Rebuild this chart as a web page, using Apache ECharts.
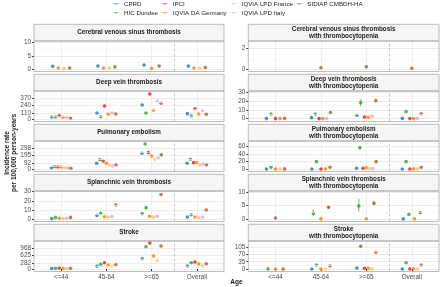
<!DOCTYPE html>
<html>
<head>
<meta charset="utf-8">
<script src="https://cdn.jsdelivr.net/npm/echarts@6/dist/echarts.min.js"></script>
<style>
  html, body { margin: 0; padding: 0; background: #fff; }
  #chart { width: 440px; height: 287px; }
</style>
</head>
<body>
<div id="chart"></div>
<script>
const sources = ['CPRD', 'HIC Dundee', 'IPCI', 'IQVIA DA Germany', 'IQVIA LPD France', 'IQVIA LPD Italy', 'SIDIAP CMBDH-HA'];
const sourceColors = ['#1F78B4', '#33A02C', '#E31A1C', '#FF7F00', '#FDBF6F', '#CAB2D6', '#B15928'];
const ageGroups = ['<=44', '45-64', '>=65', 'Overall'];

// rows follow `sources`, columns follow `ageGroups`; null = not reported
const cvstRates = [
  [1.1, 1.2, 1.6, 1.2],
  [null, null, null, null],
  [null, null, null, null],
  [0.5, 0.5, 0.4, 0.5],
  [0.25, 0.5, null, 0.4],
  [null, null, null, null],
  [0.5, 0.9, 1.2, 0.7]
];
const dvtRates = [
  [36, 107, 250, 95],
  [36, 41, 107, 54],
  [59, 232, 446, 184],
  [30, 84, 155, 89],
  [null, null, null, null],
  [30, 107, 321, 148],
  [18, 89, 280, 84]
];
const peRates = [
  [23, 85, 227, 85],
  [37, 136, 359, 142],
  [33, 118, 236, 94],
  [33, 85, 189, 94],
  [23, 57, 142, 61],
  [23, 47, 160, 75],
  [14, 61, 207, 61]
];
const svtRates = [
  [0.5, 4, 5.8, 2.2],
  [1.8, 6.2, 12.4, 4.7],
  [null, null, null, null],
  [0.8, 2.5, 3, 2.2],
  [0.5, 2.2, 2.2, 1.5],
  [0.8, 2.8, 3, 2.2],
  [1.8, 15.4, 27, 10]
];
const strokeRates = [
  [20, 124, 475, 138],
  [30, 216, 1028, 290],
  [50, 290, 1198, 322],
  [30, 184, 599, 230],
  [20, 138, 401, 152],
  [null, null, null, null],
  [30, 198, 1060, 244]
];
const cvstTcpRates = [
  [null, null, null, null],
  [null, null, null, null],
  [null, null, null, null],
  [null, null, null, null],
  [null, null, null, null],
  [null, null, null, null],
  [null, 0.15, 0.25, 0.1]
];
const dvtTcpRates = [
  [0.1, 1.2, 3.8, 0.3],
  [5.3, 5.3, 18, 8],
  [0.1, 0.1, 2, 0.1],
  [0.1, 0.1, 1.5, 0.1],
  [null, null, null, null],
  [null, 0.1, 2.7, 0.3],
  [0.4, 7, 20.5, 5.7]
];
const peTcpRates = [
  [0.1, 0.1, 2, 0.1],
  [4.6, 19.7, 57, 19.7],
  [null, 0.1, 2, 0.1],
  [0.1, 0.5, 3.5, 0.5],
  [0.1, null, 1, 0.2],
  [null, null, 1, null],
  [0.3, 4.6, 19.7, 4.6]
];
const svtTcpRates = [
  [null, null, null, 0.05],
  [null, 2.1, 4.8, 1.7],
  [null, null, null, null],
  [null, 0.05, 0.1, 0.05],
  [null, null, null, null],
  [null, null, null, null],
  [0.4, 4.3, 5.8, 2.3]
];
const strokeTcpRates = [
  [null, 0.3, 5, 0.3],
  [0.5, 19, 110, 30],
  [null, null, 4, 0.3],
  [0.3, 0.3, 4, 1],
  [null, 0.3, 0.5, 0.3],
  [null, null, null, null],
  [0.3, 14.5, 81, 19]
];

// [source index, age index, lower, upper]
const svtErrors = [[1, 2, 10.5, 15]];
const cvstTcpErrors = [[6, 2, 0.1, 0.4]];
const dvtTcpErrors = [[1, 2, 14, 22]];
const peTcpErrors = [[1, 2, 52, 62], [1, 1, 17, 22]];
const svtTcpErrors = [[1, 1, 1, 3.5], [1, 2, 2.8, 7.5], [6, 2, 5, 6.8], [6, 1, 3.9, 4.8]];
const strokeTcpErrors = [[1, 2, 105, 116]];

const cvstTicks = [0, 5, 10];
const dvtTicks = [0, 110, 240, 370];
const peTicks = [0, 92, 195, 298];
const svtTicks = [0, 10, 20, 30];
const strokeTicks = [0, 282, 625, 968];
const cvstTcpTicks = [0, 2];
const dvtTcpTicks = [0, 10, 20, 30];
const peTcpTicks = [0, 20, 40, 60];
const svtTcpTicks = [0, 5, 10];
const strokeTcpTicks = [0, 35, 70, 105];

const panels = [
  { title: 'Cerebral venous sinus thrombosis', rates: cvstRates, ticks: cvstTicks, errors: [], min: -0.83, max: 10.64 },
  { title: 'Deep vein thrombosis', rates: dvtRates, ticks: dvtTicks, errors: [], min: -45, max: 500 },
  { title: 'Pulmonary embolism', rates: peRates, ticks: peTicks, errors: [], min: -31, max: 401 },
  { title: 'Splanchnic vein thrombosis', rates: svtRates, ticks: svtTicks, errors: svtErrors, min: -2.7, max: 30.8 },
  { title: 'Stroke', rates: strokeRates, ticks: strokeTicks, errors: [], min: -115, max: 1290 },
  { title: 'Cerebral venous sinus thrombosis\nwith thrombocytopenia', rates: cvstTcpRates, ticks: cvstTcpTicks, errors: cvstTcpErrors, min: -0.21, max: 2.7 },
  { title: 'Deep vein thrombosis\nwith thrombocytopenia', rates: dvtTcpRates, ticks: dvtTcpTicks, errors: dvtTcpErrors, min: -3.2, max: 31.5 },
  { title: 'Pulmonary embolism\nwith thrombocytopenia', rates: peTcpRates, ticks: peTcpTicks, errors: peTcpErrors, min: -6.7, max: 75 },
  { title: 'Splanchnic vein thrombosis\nwith thrombocytopenia', rates: svtTcpRates, ticks: svtTcpTicks, errors: svtTcpErrors, min: -0.9, max: 10.3 },
  { title: 'Stroke\nwith thrombocytopenia', rates: strokeTcpRates, ticks: strokeTcpTicks, errors: strokeTcpErrors, min: -12, max: 135 }
];

const FONT = 'Liberation Sans, Arial, sans-serif';
const colLeft = [34, 248.3];
const colWidth = [190, 190.7];
const plotTop0 = 41, rowStep = 50, plotH = 30.5, stripH = 16.7;
const dodgeWidth = 0.5;

const grids = [], xAxes = [], yAxes = [], series = [], graphics = [];

// dodge offset for a point, counting only the sources reported in that age group
function dodgeX(rates, s, a) {
  const present = [];
  rates.forEach((row, i) => { if (row[a] != null) present.push(i); });
  const n = present.length;
  const k = present.indexOf(s);
  return a + 1 + (k - (n - 1) / 2) * dodgeWidth / n;
}

panels.forEach((p, i) => {
  const col = i < 5 ? 0 : 1;
  const row = i % 5;
  const top = plotTop0 + rowStep * row;
  const left = colLeft[col], width = colWidth[col];
  const isBottom = row === 4;

  grids.push({ left: left, top: top, width: width, height: plotH });

  xAxes.push({
    type: 'value', gridIndex: i, min: 0.4, max: 4.6,
    axisLine: { show: false },
    axisTick: { show: isBottom, length: 2, customValues: [1, 2, 3, 4], lineStyle: { color: '#333' } },
    axisLabel: {
      show: isBottom, customValues: [1, 2, 3, 4], margin: 3,
      formatter: v => ageGroups[Math.round(v) - 1],
      fontSize: 6.4, color: '#4D4D4D', fontFamily: FONT
    },
    splitLine: { show: true, lineStyle: { color: '#EBEBEB', width: 0.8 } }
  });

  yAxes.push({
    type: 'value', gridIndex: i, min: p.min, max: p.max,
    axisLine: { show: false },
    axisTick: { show: true, length: 2, customValues: p.ticks, lineStyle: { color: '#333' } },
    axisLabel: { customValues: p.ticks, margin: 3, fontSize: 6.4, color: '#4D4D4D', fontFamily: FONT },
    splitLine: { show: true, lineStyle: { color: '#E6E6E6', width: 0.8 } }
  });

  // minor grid lines halfway between major ticks, plus dashed separator before "Overall"
  const minors = [];
  for (let t = 0; t < p.ticks.length - 1; t++) minors.push((p.ticks[t] + p.ticks[t + 1]) / 2);
  series.push({
    type: 'line', xAxisIndex: i, yAxisIndex: i, data: [], silent: true,
    markLine: {
      silent: true, symbol: 'none', label: { show: false }, animation: false,
      data: minors.map(v => ({ yAxis: v, lineStyle: { color: '#F3F3F3', width: 0.6, type: 'solid' } }))
        .concat([{ xAxis: 3.5, lineStyle: { color: '#BDBDBD', width: 0.8, type: [3, 2] } }])
    }
  });

  p.errors.forEach(e => {
    const [s, a, lo, hi] = e;
    series.push({
      type: 'custom', name: sources[s], xAxisIndex: i, yAxisIndex: i, z: 3,
      data: [[dodgeX(p.rates, s, a), lo, hi]],
      encode: { x: 0, y: [1, 2] },
      itemStyle: { color: sourceColors[s] },
      renderItem: (params, api) => {
        const a1 = api.coord([api.value(0), api.value(1)]);
        const b1 = api.coord([api.value(0), api.value(2)]);
        return {
          type: 'line',
          shape: { x1: a1[0], y1: a1[1], x2: b1[0], y2: b1[1] },
          style: { stroke: sourceColors[s], lineWidth: 1.3, opacity: 0.55 }
        };
      }
    });
  });

  p.rates.forEach((vals, s) => {
    const data = [];
    vals.forEach((v, a) => { if (v != null) data.push([dodgeX(p.rates, s, a), v]); });
    if (!data.length) return;
    series.push({
      type: 'scatter', name: sources[s], xAxisIndex: i, yAxisIndex: i, z: 4,
      data: data, symbol: 'circle', symbolSize: 3.6,
      itemStyle: { color: sourceColors[s] }
    });
  });

  // strip and panel border
  graphics.push({
    type: 'rect', z: 100,
    shape: { x: left, y: top - stripH, width: width, height: stripH },
    style: { fill: '#F5F5F5', stroke: '#ABABAB', lineWidth: 0.8 }
  });
  graphics.push({
    type: 'text', z: 101, x: left + width / 2, y: top - stripH / 2,
    style: {
      text: p.title, fontSize: 6.3, fontWeight: 'bold', fill: '#1A1A1A', fontFamily: FONT,
      align: 'center', verticalAlign: 'middle', lineHeight: 7.5
    }
  });
  graphics.push({
    type: 'rect', z: 100,
    shape: { x: left, y: top, width: width, height: plotH },
    style: { fill: 'none', stroke: '#ABABAB', lineWidth: 0.8 }
  });
});

graphics.push({
  type: 'text', z: 101, x: 10.5, y: 153, rotation: Math.PI / 2,
  style: {
    text: 'Incidence rate\nper 100,000 person-years', fontSize: 6.5, fontWeight: 'bold',
    fill: '#1A1A1A', fontFamily: FONT, align: 'center', verticalAlign: 'middle', lineHeight: 7.5
  }
});
graphics.push({
  type: 'text', z: 101, x: 236.5, y: 282,
  style: {
    text: 'Age', fontSize: 6.5, fontWeight: 'bold', fill: '#1A1A1A', fontFamily: FONT,
    align: 'center', verticalAlign: 'middle'
  }
});

const legendIconLeft = [113, 161.7, 230.7, 296.3];
const legendIcon = 'path://M0,2.2H10V2.8H0Z M5,1A1.5,1.5 0 1 1 5,4A1.5,1.5 0 1 1 5,1Z';
const legends = sources.map((s, i) => ({
  data: [s],
  left: legendIconLeft[Math.floor(i / 2)],
  top: 0.8 + (i % 2) * 9,
  padding: 0,
  icon: legendIcon,
  itemWidth: 6, itemHeight: 4,
  textStyle: { fontSize: 6.2, color: '#222', fontFamily: FONT },
  selectedMode: false
}));

const chart = echarts.init(document.getElementById('chart'));
chart.setOption({
  animation: false,
  textStyle: { fontFamily: FONT },
  legend: legends,
  grid: grids,
  xAxis: xAxes,
  yAxis: yAxes,
  series: series,
  graphic: graphics
});
</script>
</body>
</html>
